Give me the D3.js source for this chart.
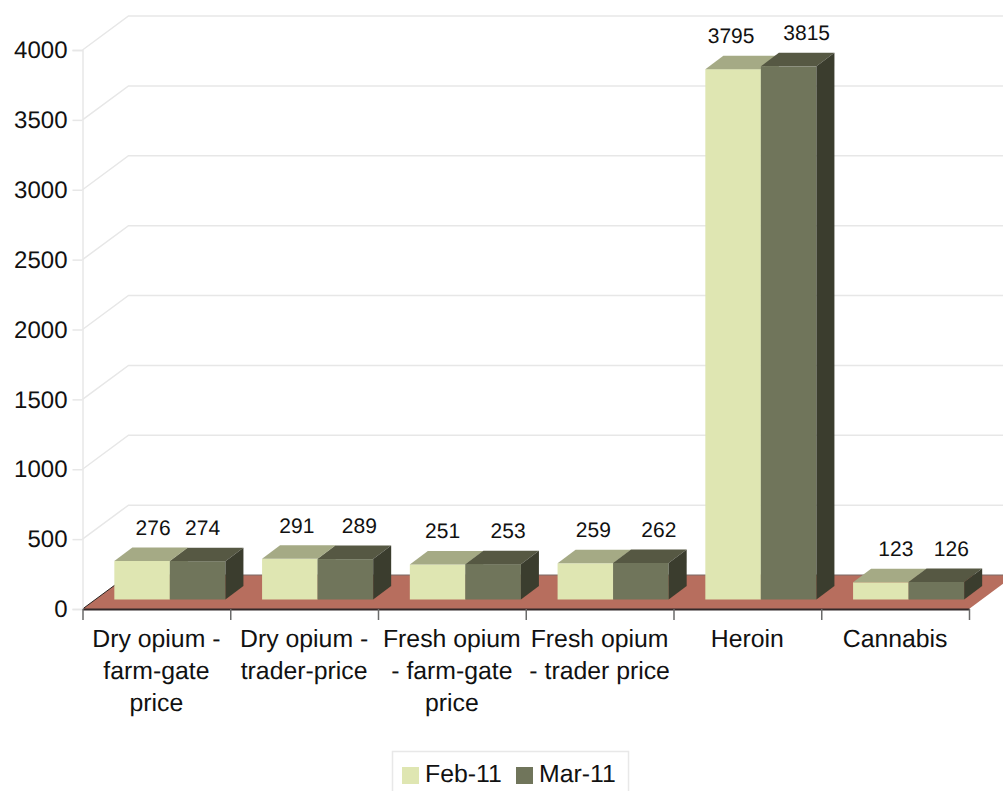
<!DOCTYPE html>
<html>
<head>
<meta charset="utf-8">
<script src="https://cdn.jsdelivr.net/npm/d3@7"></script>
<style>
  html, body { margin: 0; padding: 0; background: #fff; overflow: hidden; }
  text { font-family: "Liberation Sans", Arial, sans-serif; fill: #111; text-rendering: geometricPrecision; }
</style>
</head>
<body>
<div id="chart"></div>
<script>
var categories = ["Dry opium - farm-gate price", "Dry opium - trader-price", "Fresh opium - farm-gate price",
                  "Fresh opium - trader price", "Heroin", "Cannabis"];
var categoryLines = [["Dry opium -", "farm-gate", "price"], ["Dry opium -", "trader-price"],
                     ["Fresh opium", "- farm-gate", "price"], ["Fresh opium", "- trader price"],
                     ["Heroin"], ["Cannabis"]];
var seriesNames = ["Feb-11", "Mar-11"];
var feb11 = [276, 291, 251, 259, 3795, 123];
var mar11 = [274, 289, 253, 262, 3815, 126];
var yTicks = [0, 500, 1000, 1500, 2000, 2500, 3000, 3500, 4000];

// label nudges, the original labels were not centred over their bars
var febNudge = [11, 7, 5, 8, -2, 15];
var marNudge = [5, 14, 15, 18, 18, 15];

var width = 1003, height = 791;
var wallDx = 46, wallDy = -34;      // depth of the chart box
var barDx = 18, barDy = -13.5;      // depth of a bar
var barInset = 9.5, barShift = 13.5; // bars stand a bit inside the floor

var colors = {
  "Feb-11": {front: "#dfe6b2", top: "#a5aa85", side: "#a5aa85"},
  "Mar-11": {front: "#70755b", top: "#565843", side: "#3b3d2e"}
};
var gridColor = "#e7e7e7";

var svg = d3.select("#chart").append("svg")
  .attr("width", width)
  .attr("height", height)
  .style("display", "block");

var y = d3.scaleLinear().domain([0, 4000]).range([609, 50]);
var x = d3.scaleBand().domain(categories).range([82.5, 969]);
var xBar = d3.scaleBand().domain(seriesNames).range([0, x.bandwidth()]).paddingOuter(0.33).paddingInner(0);

// back wall and side wall lines
svg.append("g").selectAll("path")
  .data(yTicks.slice(1))
  .join("path")
  .attr("fill", "none")
  .attr("stroke", gridColor)
  .attr("stroke-width", 1.5)
  .attr("d", function(d) {
    var p = d3.path();
    p.moveTo(x.range()[0], y(d));
    p.lineTo(x.range()[0] + wallDx, y(d) + wallDy);
    p.lineTo(width, y(d) + wallDy);
    return p.toString();
  });

// floor
var floor = d3.path();
floor.moveTo(x.range()[0], y(0));
floor.lineTo(x.range()[0] + wallDx, y(0) + wallDy);
floor.lineTo(x.range()[1] + wallDx, y(0) + wallDy);
floor.lineTo(x.range()[1], y(0));
floor.closePath();
svg.append("path").attr("d", floor.toString()).attr("fill", "#b76e5e");
svg.append("path")
  .attr("d", d3.line()([[x.range()[0], y(0)], [x.range()[0] + wallDx, y(0) + wallDy]]))
  .attr("stroke", "#2b2320").attr("stroke-width", 1);
svg.append("path")
  .attr("d", d3.line()([[x.range()[0] + wallDx, y(0) + wallDy], [width, y(0) + wallDy]]))
  .attr("stroke", "#7a6a66").attr("stroke-width", 1);

// y axis
var yAxis = svg.append("g")
  .attr("transform", "translate(" + x.range()[0] + ",0)")
  .call(d3.axisLeft(y).tickValues(yTicks).tickSize(10).tickPadding(5).tickFormat(d3.format("d")));
yAxis.selectAll("path").attr("stroke", gridColor).attr("stroke-width", 1.5);
yAxis.selectAll("line").attr("stroke", gridColor).attr("stroke-width", 1.5);
yAxis.selectAll("text").attr("font-size", 24);
yAxis.attr("font-family", null);

// x axis
var xTicks = categories.map(function(c) { return x(c); }).concat([x.range()[1]]);
var xLine = d3.scaleLinear().domain(x.range()).range(x.range());
var xAxis = svg.append("g")
  .attr("transform", "translate(0," + y(0) + ")")
  .call(d3.axisBottom(xLine).tickValues(xTicks).tickSize(11).tickSizeOuter(0).tickFormat(""));
xAxis.selectAll("path").attr("stroke", "#33292a").attr("stroke-width", 2);
xAxis.selectAll("line").attr("stroke", "#6a6a6a").attr("stroke-width", 1.5);
xAxis.attr("font-family", null);

var catLabels = svg.append("g").selectAll("text")
  .data(categories)
  .join("text")
  .attr("text-anchor", "middle")
  .attr("font-size", 24.8)
  .attr("y", 647);
catLabels.selectAll("tspan")
  .data(function(d, i) { return categoryLines[i].map(function(t) { return {text: t, cat: d}; }); })
  .join("tspan")
  .attr("x", function(d) { return x(d.cat) + x.bandwidth() / 2; })
  .attr("dy", function(d, i) { return i ? 32 : 0; })
  .text(function(d) { return d.text; });

// bars, back to front per category so the dark bar covers the light one's side
function barFaces(sel, name, values) {
  var c = colors[name];
  var rows = categories.map(function(cat, i) {
    var x0 = x(cat) + xBar(name) + barShift;
    return {x0: x0, x1: x0 + xBar.bandwidth(), top: y(values[i]) - barInset, base: y(0) - barInset};
  });
  var g = sel.append("g");
  g.selectAll("rect").data(rows).join("rect")
    .attr("x", function(d) { return d.x0; })
    .attr("y", function(d) { return d.top; })
    .attr("width", function(d) { return d.x1 - d.x0; })
    .attr("height", function(d) { return d.base - d.top; })
    .attr("fill", c.front);
  g.selectAll("path.top").data(rows).join("path")
    .attr("class", "top")
    .attr("fill", c.top)
    .attr("d", function(d) {
      return d3.line()([[d.x0, d.top], [d.x0 + barDx, d.top + barDy], [d.x1 + barDx, d.top + barDy], [d.x1, d.top]]) + "Z";
    });
  g.selectAll("path.side").data(rows).join("path")
    .attr("class", "side")
    .attr("fill", c.side)
    .attr("d", function(d) {
      return d3.line()([[d.x1, d.top], [d.x1 + barDx, d.top + barDy], [d.x1 + barDx, d.base + barDy], [d.x1, d.base]]) + "Z";
    });
}
barFaces(svg, seriesNames[0], feb11);
barFaces(svg, seriesNames[1], mar11);

// data labels
function barLabels(name, values, nudge) {
  svg.append("g").selectAll("text")
    .data(values)
    .join("text")
    .attr("text-anchor", "middle")
    .attr("font-size", 21)
    .attr("x", function(d, i) { return x(categories[i]) + xBar(name) + barShift + xBar.bandwidth() / 2 + nudge[i]; })
    .attr("y", function(d) { return y(d) - barInset - 26; })
    .text(function(d) { return d; });
}
barLabels(seriesNames[0], feb11, febNudge);
barLabels(seriesNames[1], mar11, marNudge);

// legend
var legend = svg.append("g");
legend.append("rect")
  .attr("x", 392.5).attr("y", 751.5)
  .attr("width", 236).attr("height", 50)
  .attr("fill", "#fff").attr("stroke", "#e8e8e8").attr("stroke-width", 1.5);
var legendX = d3.scaleOrdinal().domain(seriesNames).range([402, 516]);
var items = legend.selectAll("g").data(seriesNames).join("g")
  .attr("transform", function(d) { return "translate(" + legendX(d) + ",767)"; });
items.append("rect").attr("width", 17).attr("height", 17).attr("fill", function(d) { return colors[d].front; });
items.append("text").attr("x", 23).attr("y", 15).attr("font-size", 24.8).text(function(d) { return d; });
</script>
</body>
</html>
